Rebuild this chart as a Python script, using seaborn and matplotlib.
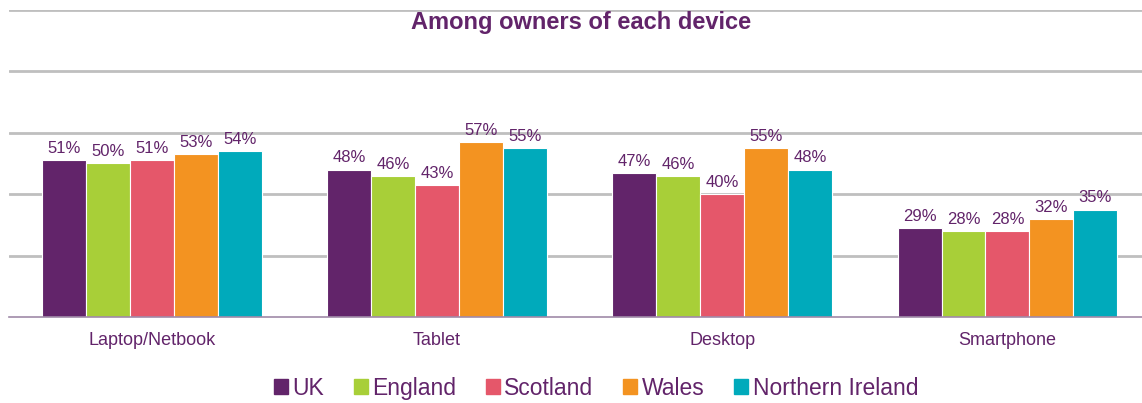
import pandas as pd
import seaborn as sns
import matplotlib.pyplot as plt

devices = ['Laptop/Netbook', 'Tablet', 'Desktop', 'Smartphone']
nations = ['UK', 'England', 'Scotland', 'Wales', 'Northern Ireland']
uk = [51, 48, 47, 29]
england = [50, 46, 46, 28]
scotland = [51, 43, 40, 28]
wales = [53, 57, 55, 32]
n_ireland = [54, 55, 48, 35]
colours = ['#62246A', '#A8CF38', '#E5576A', '#F39321', '#00AABB']

rows = []
for nation, vals in zip(nations, [uk, england, scotland, wales, n_ireland]):
    for d, v in zip(devices, vals):
        rows.append({'device': d, 'nation': nation, 'pct': v})
df = pd.DataFrame(rows)

sns.set_style('white')
plt.rcParams['font.family'] = ['Liberation Sans', 'DejaVu Sans']
purple = '#62246A'

fig = plt.figure(figsize=(11.42, 4.03), dpi=100)
ax = fig.add_axes([0.0082, 0.2134, 0.9988, 0.7618])
sns.barplot(data=df, x='device', y='pct', hue='nation', order=devices,
            hue_order=nations, palette=colours, width=0.77, saturation=1,
            edgecolor='white', linewidth=0.8, ax=ax)

for cont in ax.containers:
    ax.bar_label(cont, labels=[f'{int(v)}%' for v in cont.datavalues],
                 padding=3, color=purple, fontsize=12)

ax.set_ylim(0, 100)
ax.set_xlim(-0.5, 3.5)
ax.set_yticks([20, 40, 60, 80, 100])
ax.set_yticklabels([])
ax.tick_params(axis='y', length=0)
ax.grid(axis='y', color='#BFBFBF', linewidth=2)
ax.set_axisbelow(True)
for s in ['top', 'right', 'left']:
    ax.spines[s].set_visible(False)
ax.spines['bottom'].set_color('#A08AA8')
ax.spines['bottom'].set_linewidth(1.2)

ax.set_xticks([-0.5, 0.5, 1.5, 2.5, 3.5], minor=False)
ax.set_xticklabels([])
ax.tick_params(axis='x', which='major', length=5, color='#A08AA8', width=1, direction='out')
ax.set_xticks([0, 1, 2, 3], minor=True)
ax.set_xticklabels(devices, minor=True, color=purple, fontsize=13)
ax.tick_params(axis='x', which='minor', length=0, pad=11)
ax.set_xlabel('')
ax.set_ylabel('')

fig.text(0.509, 0.945, 'Among owners of each device', ha='center', va='center',
         fontsize=17, fontweight='bold', color=purple)

ax.legend_.remove()
handles = [plt.Rectangle((0, 0), 1, 1, color=c) for c in colours]
leg = fig.legend(handles, nations, loc='center', bbox_to_anchor=(0.522, 0.037),
                 ncol=5, frameon=False, fontsize=16.5, handlelength=0.6,
                 handleheight=0.6, handletextpad=0.2, columnspacing=1.3)
for t in leg.get_texts():
    t.set_color(purple)

fig.savefig('out.png', dpi=100)
